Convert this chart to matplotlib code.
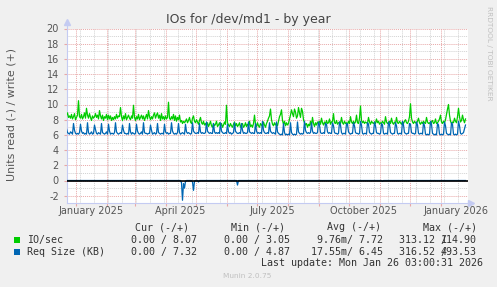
import numpy as np
import matplotlib
matplotlib.use('Agg')
import matplotlib.pyplot as plt
import matplotlib.transforms as mtransforms
from matplotlib.patches import Rectangle

W, H = 497, 287

# daily averages, first day = 2024-12-23, one row per week
start_day = np.datetime64('2024-12-23')

io_write_weeks = [
    [8.6, 8.9, 8.3, 8.5, 8.2, 8.7, 8.1],
    [8.4, 8.8, 8.0, 8.3, 8.6, 10.5, 8.4],
    [8.2, 8.7, 8.1, 8.4, 8.9, 8.2, 9.5],
    [8.6, 8.2, 8.8, 8.3, 7.9, 8.5, 8.2],
    [8.4, 8.8, 8.3, 8.6, 8.1, 9.2, 8.5],
    [8.1, 8.6, 7.9, 8.4, 8.2, 8.7, 8.0],
    [8.6, 8.1, 8.5, 7.9, 8.3, 8.0, 8.4],
    [8.1, 8.7, 8.2, 8.5, 8.4, 9.6, 8.4],
    [7.9, 8.5, 8.1, 8.8, 8.0, 8.3, 8.6],
    [8.2, 8.0, 8.5, 8.2, 9.9, 8.3, 7.9],
    [8.4, 8.1, 8.7, 8.0, 8.3, 8.6, 8.1],
    [8.5, 7.9, 8.3, 8.7, 8.1, 9.2, 8.4],
    [8.0, 8.4, 8.1, 8.6, 8.9, 8.2, 8.6],
    [8.9, 8.2, 8.6, 7.9, 8.8, 8.1, 8.4],
    [8.0, 8.5, 8.1, 8.3, 10.3, 8.2, 8.0],
    [8.4, 8.1, 8.7, 7.9, 8.5, 7.8, 8.3],
    [8.0, 8.6, 7.7, 7.9, 7.5, 7.8, 7.6],
    [7.8, 8.1, 7.6, 7.9, 8.3, 7.7, 7.5],
    [8.2, 8.5, 7.8, 7.6, 8.0, 7.7, 7.4],
    [7.9, 8.3, 7.6, 7.4, 7.8, 7.3, 7.5],
    [7.2, 7.6, 7.1, 7.4, 7.8, 7.2, 7.0],
    [7.5, 7.2, 7.4, 7.8, 7.1, 7.3, 7.6],
    [7.2, 7.5, 7.0, 7.3, 7.7, 7.4, 9.9],
    [7.6, 7.3, 7.1, 7.5, 7.2, 7.0, 7.4],
    [7.7, 7.2, 7.5, 7.1, 7.3, 7.6, 7.0],
    [7.3, 7.5, 7.0, 7.2, 7.6, 7.1, 7.4],
    [7.2, 7.8, 7.1, 7.3, 7.0, 7.5, 8.6],
    [7.4, 7.1, 7.6, 7.2, 7.0, 7.5, 7.3],
    [7.1, 7.7, 7.3, 7.0, 7.5, 7.8, 8.2],
    [8.5, 9.4, 8.0, 7.4, 7.2, 7.6, 7.3],
    [7.5, 7.2, 7.8, 8.4, 8.7, 9.3, 7.9],
    [7.4, 7.8, 7.2, 7.6, 7.3, 7.5, 8.1],
    [8.6, 9.3, 8.8, 8.4, 9.4, 9.0, 8.2],
    [8.5, 9.6, 8.9, 8.3, 9.5, 9.1, 8.0],
    [7.6, 7.3, 7.5, 7.0, 7.4, 7.2, 7.8],
    [7.2, 8.3, 7.5, 7.1, 7.6, 7.3, 7.7],
    [7.5, 7.8, 7.4, 8.2, 7.6, 7.3, 7.7],
    [7.4, 7.9, 7.5, 7.6, 8.1, 7.4, 7.7],
    [7.8, 8.8, 7.6, 7.5, 7.9, 7.4, 7.6],
    [7.7, 7.5, 8.3, 7.6, 7.4, 7.8, 7.5],
    [7.6, 7.4, 7.8, 7.5, 8.4, 7.7, 7.5],
    [7.8, 7.5, 7.7, 8.6, 7.6, 7.5, 8.2],
    [9.8, 7.9, 7.6, 7.8, 7.5, 7.7, 7.6],
    [7.5, 8.3, 7.7, 7.4, 7.8, 7.6, 7.5],
    [7.7, 7.5, 8.1, 7.6, 7.8, 7.4, 7.6],
    [7.5, 7.8, 7.6, 7.4, 8.4, 7.7, 7.5],
    [7.6, 7.8, 7.5, 8.2, 7.6, 7.4, 7.7],
    [7.5, 8.3, 7.6, 7.5, 7.8, 7.6, 7.4],
    [7.7, 7.5, 7.8, 8.0, 7.6, 7.5, 7.8],
    [8.4, 10.1, 8.2, 7.7, 7.5, 7.8, 7.6],
    [7.5, 7.8, 8.2, 7.6, 7.4, 7.7, 7.5],
    [7.8, 7.6, 7.5, 8.3, 7.7, 7.5, 7.6],
    [7.4, 7.7, 7.9, 7.5, 7.6, 8.1, 7.5],
    [7.6, 7.8, 8.1, 8.6, 7.7, 7.5, 7.8],
    [7.6, 8.0, 8.7, 9.4, 10.0, 8.6, 7.8],
    [7.5, 7.7, 7.6, 8.2, 7.8, 7.6, 8.4],
    [9.5, 8.4, 7.7, 7.9, 8.6, 8.0, 7.6],
    [8.1],
]

req_write_weeks = [
    [6.8, 6.3, 6.2, 6.1, 6.4, 6.3, 6.1],
    [7.5, 6.6, 6.2, 6.1, 6.2, 6.1, 6.3],
    [7.4, 6.5, 6.2, 6.3, 6.1, 6.2, 6.1],
    [7.6, 6.3, 6.1, 6.2, 6.4, 6.1, 6.2],
    [7.3, 6.7, 6.2, 6.1, 6.3, 6.2, 6.1],
    [7.5, 6.3, 6.2, 6.1, 6.2, 6.4, 6.1],
    [7.4, 6.5, 6.1, 6.2, 6.2, 6.1, 6.3],
    [7.6, 6.4, 6.2, 6.1, 6.2, 6.3, 6.2],
    [7.3, 6.6, 6.2, 6.2, 6.1, 6.2, 6.1],
    [7.5, 6.4, 6.1, 6.3, 6.2, 6.1, 6.2],
    [7.4, 6.5, 6.2, 6.1, 6.2, 6.4, 6.1],
    [7.6, 6.3, 6.2, 6.2, 6.1, 6.2, 6.2],
    [7.3, 6.6, 6.1, 6.2, 6.3, 6.1, 6.2],
    [7.5, 6.3, 6.2, 6.1, 6.2, 6.2, 6.1],
    [7.4, 6.4, 6.2, 6.3, 6.1, 6.2, 6.2],
    [7.6, 6.5, 6.2, 6.1, 6.2, 6.1, 6.3],
    [7.5, 6.3, 6.1, 6.2, 6.3, 6.2, 6.1],
    [7.4, 6.4, 6.2, 6.3, 6.2, 6.1, 6.2],
    [7.6, 6.5, 6.3, 6.2, 6.2, 6.3, 6.2],
    [7.5, 6.4, 6.2, 6.3, 6.2, 6.2, 6.3],
    [7.7, 6.5, 6.3, 6.2, 6.3, 6.2, 6.2],
    [7.5, 6.4, 6.2, 6.3, 6.2, 6.3, 6.2],
    [7.6, 6.5, 6.3, 6.2, 6.2, 6.3, 6.2],
    [7.4, 6.4, 6.2, 6.3, 6.1, 6.2, 6.3],
    [7.6, 6.5, 6.3, 6.2, 6.2, 6.3, 6.2],
    [7.5, 6.6, 6.2, 6.3, 6.2, 6.2, 6.3],
    [7.7, 6.4, 6.3, 6.2, 6.3, 6.2, 6.2],
    [7.5, 6.5, 6.2, 6.3, 6.2, 6.3, 6.2],
    [7.8, 6.6, 6.3, 6.2, 6.2, 6.3, 6.2],
    [7.6, 6.5, 6.3, 6.2, 6.3, 6.2, 6.1],
    [7.7, 6.4, 6.2, 6.1, 6.0, 6.1, 6.0],
    [7.5, 6.3, 6.0, 6.1, 6.0, 6.1, 6.0],
    [7.6, 6.3, 6.1, 6.0, 6.1, 6.0, 6.1],
    [7.7, 6.4, 6.2, 6.1, 6.2, 6.1, 6.2],
    [7.8, 6.6, 6.3, 6.2, 6.3, 6.2, 6.3],
    [7.6, 6.5, 6.2, 6.3, 6.2, 6.2, 6.3],
    [7.7, 7.3, 6.3, 6.2, 6.2, 6.3, 6.2],
    [7.5, 7.4, 6.4, 6.2, 6.3, 6.2, 6.2],
    [7.6, 7.2, 6.3, 6.2, 6.2, 6.1, 6.2],
    [7.7, 7.3, 6.3, 6.1, 6.2, 6.2, 6.1],
    [7.5, 7.4, 6.4, 6.2, 6.1, 6.2, 6.2],
    [7.6, 7.2, 6.3, 6.2, 6.2, 6.1, 6.2],
    [7.8, 7.3, 6.2, 6.1, 6.2, 6.2, 6.1],
    [7.6, 7.4, 6.3, 6.2, 6.1, 6.2, 6.2],
    [7.7, 7.2, 6.3, 6.2, 6.2, 6.1, 6.2],
    [7.5, 7.3, 6.2, 6.1, 6.2, 6.2, 6.1],
    [7.7, 7.4, 6.3, 6.2, 6.1, 6.2, 6.2],
    [7.6, 7.2, 6.2, 6.1, 6.2, 6.2, 6.1],
    [7.8, 7.3, 6.3, 6.2, 6.1, 6.2, 6.2],
    [7.5, 7.4, 6.3, 6.2, 6.2, 6.1, 6.2],
    [7.7, 7.3, 6.2, 6.1, 6.2, 6.2, 6.1],
    [7.6, 7.2, 6.1, 6.0, 6.1, 6.0, 6.1],
    [7.8, 7.4, 6.2, 6.1, 6.0, 6.1, 6.0],
    [7.5, 7.3, 6.1, 6.0, 6.1, 6.0, 6.1],
    [7.7, 7.2, 6.2, 6.1, 6.0, 6.1, 6.0],
    [7.6, 7.4, 6.1, 6.0, 6.1, 6.0, 6.1],
    [7.8, 7.2, 6.2, 6.1, 6.2, 6.3, 6.8],
    [7.3],
]

# read side is flat zero except a few days (day index from start_day)
req_read_days = [115, 116, 117, 118, 119, 126, 127, 128, 132, 171, 316]
req_read_vals = [-0.3, -2.6, -0.4, -1.0, -0.1, -0.2, -1.3, -0.1, -0.2, -0.6, -0.1]

legend_names = ['IO/sec', 'Req Size (KB)']
legend_colors = ['#00cc00', '#0066b3']
cur_vals = ['0.00 / 8.07', '0.00 / 7.32']
min_vals = ['0.00 / 3.05', '0.00 / 4.87']
avg_vals = ['9.76m/ 7.72', '17.55m/ 6.45']
max_neg = ['313.12 /', '316.52 /']
max_pos = ['114.90', '493.53']

io_write = [v for w in io_write_weeks for v in w]
req_write = [v for w in req_write_weeks for v in w]
days = start_day + np.arange(len(io_write))
req_read = [0.0] * len(req_write)
for d, v in zip(req_read_days, req_read_vals):
    req_read[d] = v


def fx(px):
    return px / W


def fy(py):
    return 1 - py / H


fig = plt.figure(figsize=(W / 100, H / 100), dpi=100, facecolor='#f0f0f0')
ax = fig.add_axes([fx(66.5), fy(203.3), (468 - 66.5) / W, (203.3 - 28.5) / H])
ax.set_facecolor('white')

x0 = start_day
x1 = start_day + np.timedelta64(401, 'D') + np.timedelta64(12, 'h')
ax.set_xlim(x0, x1)
ax.set_ylim(-3, 20)

# grid, rrdtool style
minor_x = np.arange(np.datetime64('2024-12-22'), np.datetime64('2026-01-29'), 14)
major_x = np.arange(np.datetime64('2025-01'), np.datetime64('2026-02'), dtype='datetime64[M]').astype('datetime64[D]')
for d in minor_x:
    ax.axvline(d, color='#d2d2d2', lw=0.7, ls=(0, (1, 1)), zorder=1)
for y in range(-3, 20, 2):
    ax.axhline(y, color='#d2d2d2', lw=0.7, ls=(0, (1, 1)), zorder=1)
for d in major_x:
    ax.axvline(d, color='#e8a8a8', lw=0.7, ls=(0, (1, 1)), zorder=2)
for y in range(-2, 21, 2):
    ax.axhline(y, color='#e8a8a8', lw=0.7, ls=(0, (1, 1)), zorder=2)

ax.plot(days, io_write, color=legend_colors[0], lw=0.9, zorder=3)
ax.plot(days, req_read, color=legend_colors[1], lw=0.9, zorder=3)
ax.plot(days, req_write, color=legend_colors[1], lw=0.9, zorder=4)
ax.axhline(0, color='black', lw=1.2, zorder=5)

for s in ['top', 'right']:
    ax.spines[s].set_visible(False)
for s in ['left', 'bottom']:
    ax.spines[s].set_color('#c4cbf2')
    ax.spines[s].set_linewidth(0.8)
ax.plot([0, 0], [1, 1.035], color='#c4cbf2', lw=0.8, transform=ax.transAxes, clip_on=False)
ax.plot([1, 1.008], [0, 0], color='#c4cbf2', lw=0.8, transform=ax.transAxes, clip_on=False)
ax.plot([0], [1.035], marker='^', ms=4, color='#c4cbf2', transform=ax.transAxes, clip_on=False)
ax.plot([1.008], [0], marker='>', ms=4, color='#c4cbf2', transform=ax.transAxes, clip_on=False)

ax.set_yticks(range(-2, 21, 2))
ax.set_yticklabels([str(v) for v in range(-2, 21, 2)])
ax.set_xticks(major_x)
ax.set_xticklabels([])
ax.tick_params(axis='y', length=2, color='#e8a8a8', pad=3.5, labelsize=7, labelcolor='#555555')
ax.tick_params(axis='x', length=2, color='#e8a8a8')

# month labels centred in their month
label_months = np.array(['2025-01', '2025-04', '2025-07', '2025-10', '2026-01'], dtype='datetime64[M]')
label_names = ['January 2025', 'April 2025', 'July 2025', 'October 2025', 'January 2026']
trans = mtransforms.blended_transform_factory(ax.transData, ax.transAxes)
for m, name in zip(label_months, label_names):
    a = m.astype('datetime64[h]')
    b = (m + 1).astype('datetime64[h]')
    mid = a + (b - a) // 2
    ax.text(mid, -0.044, name, transform=trans, ha='center', va='center',
            fontsize=7, color='#555555')

fig.text(fx(248), fy(19.5), 'IOs for /dev/md1 - by year', ha='center', va='center',
         fontsize=9, color='#444444')
fig.text(fx(11.5), fy(114), 'Units read (-) / write (+)', rotation=90, ha='center', va='center',
         fontsize=7.9, color='#555555')
fig.text(fx(488.5), fy(53.5), 'RRDTOOL / TOBI OETIKER', rotation=270, ha='center', va='center',
         fontsize=5.3, color='#c0c0c0')

mono = dict(family='DejaVu Sans Mono', fontsize=7.2, color='#333333', va='center', ha='left')
for x, t in zip([135, 230.7, 326.7, 423], ['Cur (-/+)', 'Min (-/+)', 'Avg (-/+)', 'Max (-/+)']):
    fig.text(fx(x), fy(227), t, **mono)

rows_y = [240, 251.7]
for i in range(2):
    y = rows_y[i]
    fig.patches.append(Rectangle((fx(14), fy(y + 3)), 6 / W, 6 / H, transform=fig.transFigure,
                                 facecolor=legend_colors[i], edgecolor='none'))
    fig.text(fx(26.7), fy(y), legend_names[i], **mono)
    fig.text(fx(131), fy(y), cur_vals[i], **mono)
    fig.text(fx(224), fy(y), min_vals[i], **mono)
    fig.text(fx(383), fy(y), avg_vals[i], **{**mono, 'ha': 'right'})
    fig.text(fx(399), fy(y), max_neg[i], **mono)
    fig.text(fx(441), fy(y), max_pos[i], **mono)

fig.text(fx(482.7), fy(263.3), 'Last update: Mon Jan 26 03:00:31 2026', **{**mono, 'ha': 'right'})
fig.text(fx(223), fy(276), 'Munin 2.0.75', ha='left', va='center', fontsize=5.3, color='#c0c0c0')

fig.savefig('out.png', dpi=100, facecolor='#f0f0f0')
